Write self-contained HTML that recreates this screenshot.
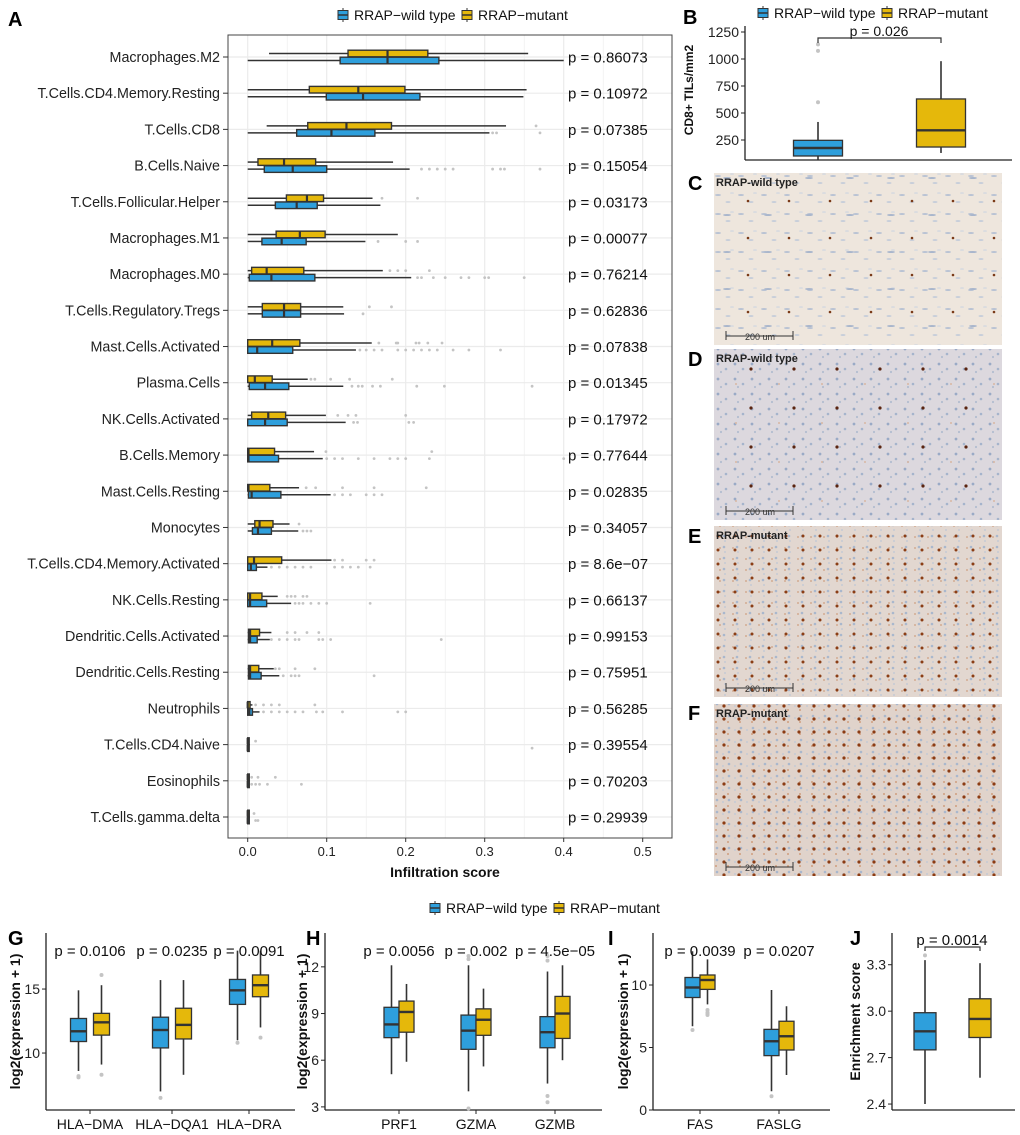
<!DOCTYPE html>
<html><head><meta charset="utf-8">
<style>
html,body{margin:0;padding:0;background:#fff;}
svg{display:block;font-family:"Liberation Sans",Arial,sans-serif;}
</style></head>
<body>
<svg id="fig" width="1020" height="1135" viewBox="0 0 1020 1135" xmlns="http://www.w3.org/2000/svg">
<defs>
  <pattern id="tissueC" width="23" height="19" patternUnits="userSpaceOnUse">
    <rect width="23" height="19" fill="#eee6dd"/>
    <ellipse cx="5" cy="5" rx="3" ry="1" fill="#b9c3d4"/>
    <ellipse cx="15" cy="12" rx="2.5" ry="0.9" fill="#c2cbd9"/>
    <ellipse cx="19" cy="3" rx="2" ry="0.8" fill="#d3d8e0"/>
  </pattern>
  <pattern id="tissueC2" width="41" height="37" patternUnits="userSpaceOnUse">
    <circle cx="10" cy="16" r="1.3" fill="#7a3a18"/>
    <ellipse cx="30" cy="30" rx="4" ry="1" fill="#a9b6cc"/>
  </pattern>
  <pattern id="tissueD" width="17" height="15" patternUnits="userSpaceOnUse">
    <rect width="17" height="15" fill="#dcd8de"/>
    <circle cx="4" cy="4" r="1.4" fill="#9aaac6"/>
    <circle cx="12" cy="9" r="1.3" fill="#a5b4cc"/>
    <circle cx="7" cy="12" r="1.1" fill="#b3bdd0"/>
  </pattern>
  <pattern id="tissueD2" width="43" height="39" patternUnits="userSpaceOnUse">
    <circle cx="20" cy="18" r="1.6" fill="#5a2410"/>
    <circle cx="5" cy="33" r="1" fill="#d8b7a3"/>
  </pattern>
  <pattern id="tissueE" width="13" height="11" patternUnits="userSpaceOnUse">
    <rect width="13" height="11" fill="#e2d7d0"/>
    <circle cx="9" cy="8" r="1.3" fill="#a9b7cd"/>
    <circle cx="10" cy="2" r="0.9" fill="#bdc6d6"/>
    <circle cx="5" cy="9" r="1" fill="#d2ab92"/>
  </pattern>
  <pattern id="tissueE2" width="17" height="14" patternUnits="userSpaceOnUse">
    <circle cx="4" cy="4" r="1.5" fill="#8b3e16"/>
  </pattern>
  <pattern id="tissueF" width="12" height="12" patternUnits="userSpaceOnUse">
    <rect width="12" height="12" fill="#e0d3cb"/>
    <circle cx="9" cy="8" r="1.3" fill="#a9b7cd"/>
    <circle cx="8" cy="2" r="1" fill="#cf9e7e"/>
    <circle cx="3" cy="10" r="0.9" fill="#bcc7d8"/>
  </pattern>
  <pattern id="tissueF2" width="15" height="13" patternUnits="userSpaceOnUse">
    <circle cx="4" cy="4" r="1.6" fill="#8c3c14"/>
  </pattern>
</defs>
<g id="root"></g>
</svg>
<script>
// ===== Panel A data (wild = blue, mutant = yellow) =====
const aCategories = ["Macrophages.M2","T.Cells.CD4.Memory.Resting","T.Cells.CD8","B.Cells.Naive","T.Cells.Follicular.Helper","Macrophages.M1","Macrophages.M0","T.Cells.Regulatory.Tregs","Mast.Cells.Activated","Plasma.Cells","NK.Cells.Activated","B.Cells.Memory","Mast.Cells.Resting","Monocytes","T.Cells.CD4.Memory.Activated","NK.Cells.Resting","Dendritic.Cells.Activated","Dendritic.Cells.Resting","Neutrophils","T.Cells.CD4.Naive","Eosinophils","T.Cells.gamma.delta"];
const aPvalues = ["p = 0.86073","p = 0.10972","p = 0.07385","p = 0.15054","p = 0.03173","p = 0.00077","p = 0.76214","p = 0.62836","p = 0.07838","p = 0.01345","p = 0.17972","p = 0.77644","p = 0.02835","p = 0.34057","p = 8.6e\u221207","p = 0.66137","p = 0.99153","p = 0.75951","p = 0.56285","p = 0.39554","p = 0.70203","p = 0.29939"];
// [whiskerLow, q1, median, q3, whiskerHigh]
const aWild = [[0,0.117,0.177,0.242,0.40],[0,0.0995,0.146,0.218,0.349],[0,0.062,0.106,0.161,0.306],[0,0.021,0.057,0.10,0.205],[0,0.035,0.062,0.088,0.168],[0,0.018,0.043,0.074,0.149],[0,0.002,0.03,0.085,0.207],[0,0.0185,0.046,0.067,0.122],[0,0,0.012,0.057,0.137],[0,0.002,0.022,0.052,0.121],[0,0,0.022,0.05,0.124],[0,0,0.001,0.039,0.095],[0,0.001,0.005,0.042,0.105],[0,0.006,0.013,0.03,0.064],[0,0,0.004,0.011,0.025],[0,0,0.003,0.024,0.055],[0,0.001,0.003,0.012,0.028],[0,0.001,0.003,0.017,0.04],[0,0,0.002,0.006,0.015],[0,0,0,0.001,0.001],[0,0,0,0.002,0.002],[0,0,0,0.002,0.002]];
const aMutant = [[0.027,0.127,0.177,0.228,0.355],[0,0.078,0.14,0.199,0.353],[0.024,0.076,0.125,0.182,0.327],[0,0.013,0.046,0.086,0.184],[0,0.049,0.075,0.096,0.158],[0,0.036,0.066,0.098,0.19],[0,0.005,0.024,0.071,0.171],[0,0.0185,0.046,0.067,0.121],[0,0,0.031,0.066,0.157],[0,0,0.009,0.031,0.076],[0,0.005,0.026,0.048,0.099],[0,0,0.001,0.034,0.084],[0,0,0.001,0.028,0.065],[0,0.009,0.015,0.032,0.053],[0,0,0.008,0.043,0.106],[0,0,0.003,0.018,0.038],[0,0.001,0.003,0.015,0.03],[0,0.001,0.003,0.014,0.033],[0,0,0,0.003,0.006],[0,0,0,0.001,0.001],[0,0,0,0.002,0.002],[0,0,0,0.002,0.002]];
const aWildOut = [[],[],[0.31,0.315,0.37],[0.22,0.23,0.24,0.25,0.26,0.31,0.32,0.325,0.37],[],[0.165,0.20,0.215],[0.215,0.22,0.235,0.25,0.27,0.28,0.30,0.305,0.35],[0.146],[0.142,0.15,0.16,0.17,0.19,0.2,0.21,0.22,0.23,0.24,0.26,0.28,0.32],[0.132,0.14,0.145,0.158,0.168,0.214,0.249,0.36],[0.134,0.139,0.204,0.21],[0.10,0.11,0.12,0.14,0.16,0.18,0.19,0.2,0.23,0.4],[0.11,0.12,0.13,0.15,0.16,0.17],[0.07,0.075,0.08],[0.03,0.04,0.05,0.06,0.07,0.08,0.11,0.12,0.13,0.14,0.155],[0.06,0.065,0.07,0.08,0.09,0.1,0.155],[0.03,0.04,0.05,0.06,0.065,0.09,0.095,0.105,0.245],[0.045,0.055,0.06,0.065,0.16],[0.02,0.03,0.04,0.05,0.06,0.07,0.087,0.095,0.12,0.19,0.2],[0.36],[0.005,0.01,0.015,0.025,0.068],[0.01,0.013]];
const aMutantOut = [[],[],[0.365],[],[0.17,0.215],[],[0.18,0.19,0.2,0.23],[0.154,0.182],[0.166,0.188,0.19,0.213,0.217,0.228,0.246],[0.08,0.085,0.105,0.129,0.183],[0.114,0.127,0.137,0.2],[0.099,0.233],[0.074,0.086,0.12,0.16,0.226],[0.065],[0.11,0.12,0.15,0.16],[0.05,0.055,0.06,0.07,0.075],[0.05,0.06,0.075,0.09],[0.035,0.04,0.06,0.085],[0.01,0.02,0.03,0.04,0.085],[0.01],[0.005,0.013,0.035],[0.008]];
const aTicks = [0,0.1,0.2,0.3,0.4,0.5];
const aTickLabels = ["0.0","0.1","0.2","0.3","0.4","0.5"];

// ===== Panel B data =====
const bGroups = ["RRAP-wild type","RRAP-mutant"];
const bStats = [[65,102,176,247,417],[130,185,340,630,980]];
const bOutliers = [[600,1075,1135],[]];
const bTicks = [250,500,750,1000,1250];

// ===== Panels G-J data =====
const gGenes = ["HLA\u2212DMA","HLA\u2212DQA1","HLA\u2212DRA"];
const gWild = [[8.6,10.9,11.7,12.7,14.9],[7.0,10.4,11.8,12.8,15.7],[11.0,13.8,14.9,15.75,18.0]];
const gMut = [[9.1,11.4,12.4,13.1,15.3],[8.3,11.1,12.2,13.5,15.7],[12.0,14.4,15.3,16.1,18.0]];
const gWildOut = [[8.1,8.2],[6.5],[10.8]];
const gMutOut = [[16.1,8.3],[],[11.2]];
const gP = ["p = 0.0106","p = 0.0235","p = 0.0091"];
const gTicks = [10,15];

const hGenes = ["PRF1","GZMA","GZMB"];
const hWild = [[5.1,7.45,8.3,9.4,12.1],[4.0,6.7,7.9,8.9,12.1],[4.5,6.8,7.8,8.8,11.7]];
const hMut = [[5.9,7.8,9.1,9.8,10.9],[5.6,7.6,8.6,9.3,10.6],[6.0,7.4,9.0,10.1,12.1]];
const hWildOut = [[],[2.9,12.5,12.7],[3.3,3.7,12.4,12.7]];
const hMutOut = [[],[],[]];
const hP = ["p = 0.0056","p = 0.002","p = 4.5e\u221205"];
const hTicks = [3,6,9,12];

const iGenes = ["FAS","FASLG"];
const iWild = [[6.7,9.0,9.8,10.6,12.7],[1.5,4.35,5.5,6.45,9.6]];
const iMut = [[8.45,9.65,10.4,10.8,12.05],[2.8,4.8,5.9,7.1,8.3]];
const iWildOut = [[6.4],[1.1]];
const iMutOut = [[7.6,7.7,7.8,8.0],[]];
const iP = ["p = 0.0039","p = 0.0207"];
const iTicks = [0,5,10];

const jWild = [2.4,2.75,2.87,2.99,3.33];
const jMut = [2.57,2.83,2.95,3.08,3.31];
const jWildOut = [3.36];
const jP = "p = 0.0014";
const jTicks = [2.4,2.7,3.0,3.3];

const BLUE="#2e9fdc", YEL="#e5b80b", STK="#333333", OUT="#c4c4c4";
const NS="http://www.w3.org/2000/svg";
const root=document.getElementById('root');
function mk(tag,attrs,parent,text){const e=document.createElementNS(NS,tag);for(const k in attrs)e.setAttribute(k,attrs[k]);if(text!==undefined)e.textContent=text;(parent||root).appendChild(e);return e;}

// ---------- Panel labels ----------
const letters=[["A",8,26],["B",683,24],["C",688,190],["D",688,366],["E",688,543],["F",688,720],["G",8,945],["H",306,945],["I",608,945],["J",850,945]];
letters.forEach(l=>{
  const t=mk('text',{x:l[1],y:l[2],'font-size':20,'font-weight':'bold',fill:'#000'},root,l[0]);
  
  
});

// ---------- Legend helper ----------
function legend(x,y,name){
  const g=mk('g',{});
  
  
  const items=[[BLUE,"RRAP\u2212wild type"],[YEL,"RRAP\u2212mutant"]];
  let cx=x;
  items.forEach((it,i)=>{
    const e=mk('g',{},g);
    
    
    mk('line',{x1:cx+5,x2:cx+5,y1:y-7,y2:y+7,stroke:STK,'stroke-width':1},e);
    mk('rect',{x:cx,y:y-4.5,width:10,height:9,fill:it[0],stroke:STK,'stroke-width':1},e);
    mk('line',{x1:cx,x2:cx+10,y1:y,y2:y,stroke:STK,'stroke-width':1.5},e);
    mk('text',{x:cx+16,y:y+5,'font-size':14,fill:'#111'},e,it[1]);
    cx+= i===0?124:0;
  });
}
legend(338,15,'legend-panel-a');
legend(758,13,'legend-panel-b');
legend(430,908,'legend-bottom');

// ---------- Panel A ----------
const A={x0:228,x1:672,y0:35,y1:838};
const ax=v=>247.7+v*790;
const rowY=i=>57+i*36.19;
const gA=mk('g',{});


for(let v=0;v<=0.5001;v+=0.05){
  const ln=mk('line',{x1:ax(v),x2:ax(v),y1:A.y0,y2:A.y1,stroke:'#ebebeb','stroke-width':Math.round(v*100)%10===0?1.2:0.6},gA);
  
  
}
aCategories.forEach((c,i)=>{
  const ln=mk('line',{x1:A.x0,x2:A.x1,y1:rowY(i),y2:rowY(i),stroke:'#ebebeb','stroke-width':1.2},gA);
  
  
});
mk('rect',{x:A.x0,y:A.y0,width:A.x1-A.x0,height:A.y1-A.y0,fill:'none',stroke:'#444','stroke-width':1},gA);
function hbox(parent,s,cy,fill,name){
  const g=mk('g',{},parent);
  
  
  mk('line',{x1:ax(s[0]),x2:ax(s[1]),y1:cy,y2:cy,stroke:STK,'stroke-width':1.5},g);
  mk('line',{x1:ax(s[3]),x2:ax(s[4]),y1:cy,y2:cy,stroke:STK,'stroke-width':1.5},g);
  mk('rect',{x:ax(s[1]),y:cy-3.3,width:Math.max(ax(s[3])-ax(s[1]),1.5),height:6.6,fill:fill,stroke:STK,'stroke-width':1.4},g);
  mk('line',{x1:ax(s[2]),x2:ax(s[2]),y1:cy-3.3,y2:cy+3.3,stroke:STK,'stroke-width':2.2},g);
}
aCategories.forEach((c,i)=>{
  const y=rowY(i);
  const lab=mk('text',{x:220,y:y+5,'font-size':14.3,'text-anchor':'end',fill:'#222'},gA,c);
  
  
  mk('line',{x1:223,x2:228,y1:y,y2:y,stroke:'#333','stroke-width':1},gA);
  aWildOut[i].forEach(v=>{const d=mk('circle',{cx:ax(v),cy:y+3.5,r:1.4,fill:OUT},gA);
    
    });
  aMutantOut[i].forEach(v=>{const d=mk('circle',{cx:ax(v),cy:y-3.5,r:1.4,fill:OUT},gA);
    
    });
  hbox(gA,aWild[i],y+3.5,BLUE,'box-wild-'+i);
  hbox(gA,aMutant[i],y-3.5,YEL,'box-mutant-'+i);
  const p=mk('text',{x:568,y:y+5.5,'font-size':15,fill:'#111'},gA,aPvalues[i]);
  
  
});
aTicks.forEach((v,i)=>{
  mk('line',{x1:ax(v),x2:ax(v),y1:A.y1,y2:A.y1+4,stroke:'#333'},gA);
  const t=mk('text',{x:ax(v),y:A.y1+18,'font-size':13,'text-anchor':'middle',fill:'#222'},gA,aTickLabels[i]);
  
  
});
const axT=mk('text',{x:445,y:877,'font-size':14,'font-weight':'bold','text-anchor':'middle',fill:'#111'},gA,'Infiltration score');



// ---------- Vertical box plot helper ----------
function vpanel(cfg){
  const g=mk('g',{});
  
  
  const sy=v=>cfg.yb-(v-cfg.vmin)*cfg.k;
  mk('line',{x1:cfg.x0,x2:cfg.x0,y1:cfg.yt,y2:cfg.yb,stroke:'#222','stroke-width':1.3},g);
  mk('line',{x1:cfg.x0,x2:cfg.x1,y1:cfg.yb,y2:cfg.yb,stroke:'#222','stroke-width':1.3},g);
  cfg.ticks.forEach(v=>{
    mk('line',{x1:cfg.x0-4,x2:cfg.x0,y1:sy(v),y2:sy(v),stroke:'#222'},g);
    const t=mk('text',{x:cfg.x0-6,y:sy(v)+5,'font-size':14,'text-anchor':'end',fill:'#222'},g,cfg.fmt?cfg.fmt(v):String(v));
    
    
  });
  const yt=mk('text',{x:0,y:0,'font-size':cfg.ytSize||14,'font-weight':'bold','text-anchor':'middle',fill:'#111',transform:`translate(${cfg.ytx},${(cfg.yt+cfg.yb)/2}) rotate(-90)`},g,cfg.ytitle);
  
  
  cfg.groups.forEach((gr,i)=>{
    const list = gr.single ? [[gr.wild,gr.wOut,gr.fill,0,gr.kind]] : [[gr.wild,gr.wOut,BLUE,-cfg.off,'wild'],[gr.mut,gr.mOut,YEL,cfg.off,'mutant']];
    list.forEach(b=>{
      const s=b[0], cx=gr.cx+b[3], w=cfg.bw;
      const bg=mk('g',{},g);
      
      
      mk('line',{x1:cx,x2:cx,y1:sy(s[0]),y2:sy(s[4]),stroke:STK,'stroke-width':1.6},bg);
      mk('rect',{x:cx-w/2,y:sy(s[3]),width:w,height:sy(s[1])-sy(s[3]),fill:b[2],stroke:STK,'stroke-width':1.3},bg);
      mk('line',{x1:cx-w/2,x2:cx+w/2,y1:sy(s[2]),y2:sy(s[2]),stroke:STK,'stroke-width':2.4},bg);
      (b[1]||[]).forEach(v=>{const d=mk('circle',{cx:cx,cy:sy(v),r:2,fill:OUT},bg);
        
        });
    });
    if(gr.label){
      mk('line',{x1:gr.cx,x2:gr.cx,y1:cfg.yb,y2:cfg.yb+4,stroke:'#222'},g);
      const t=mk('text',{x:gr.cx,y:cfg.yb+19,'font-size':14,'text-anchor':'middle',fill:'#111'},g,gr.label);
      
      
    }
    if(gr.p){
      const t=mk('text',{x:gr.cx,y:cfg.py,'font-size':15,'text-anchor':'middle',fill:'#111'},g,gr.p);
      
      
    }
  });
  return {g,sy};
}

// Panel B
(function(){
  const sy=v=>32+(1250-v)*0.108;
  const g=mk('g',{});
  
  
  mk('line',{x1:745,x2:745,y1:26,y2:160,stroke:'#222','stroke-width':1.3},g);
  mk('line',{x1:745,x2:1012,y1:160,y2:160,stroke:'#222','stroke-width':1.3},g);
  bTicks.forEach(v=>{
    mk('line',{x1:741,x2:745,y1:sy(v),y2:sy(v),stroke:'#222'},g);
    const t=mk('text',{x:739,y:sy(v)+5,'font-size':14,'text-anchor':'end',fill:'#222'},g,String(v));
    
    
  });
  const yt=mk('text',{x:0,y:0,'font-size':12,'font-weight':'bold','text-anchor':'middle',fill:'#111',transform:'translate(693,90) rotate(-90)'},g,'CD8+ TILs/mm2');
  
  
  const cxs=[818,941], cols=[BLUE,YEL];
  bStats.forEach((s,i)=>{
    const bg=mk('g',{},g);
    
    
    const cx=cxs[i], w=49;
    mk('line',{x1:cx,x2:cx,y1:sy(s[0]),y2:sy(s[4]),stroke:STK,'stroke-width':1.6},bg);
    mk('rect',{x:cx-w/2,y:sy(s[3]),width:w,height:sy(s[1])-sy(s[3]),fill:cols[i],stroke:STK,'stroke-width':1.3},bg);
    mk('line',{x1:cx-w/2,x2:cx+w/2,y1:sy(s[2]),y2:sy(s[2]),stroke:STK,'stroke-width':2.4},bg);
    bOutliers[i].forEach(v=>{const d=mk('circle',{cx:cx,cy:sy(v),r:2,fill:OUT},bg);
      
      });
  });
  mk('path',{d:'M818,43 V38 H941 V43',fill:'none',stroke:'#333','stroke-width':1.2},g);
  const p=mk('text',{x:879,y:36,'font-size':14,'text-anchor':'middle',fill:'#111'},g,'p = 0.026');
  
  
})();

// Histology images
[["C",173,345,'tissueC','RRAP-wild type'],["D",349,520,'tissueD','RRAP-wild type'],["E",526,697,'tissueE','RRAP-mutant'],["F",704,876,'tissueF','RRAP-mutant']].forEach(im=>{
  const g=mk('g',{});
  
  
  mk('rect',{x:714,y:im[1],width:288,height:im[2]-im[1],fill:'url(#'+im[3]+')'},g);
  mk('rect',{x:714,y:im[1],width:288,height:im[2]-im[1],fill:'url(#'+im[3]+'2)'},g);
  const t=mk('text',{x:716,y:im[1]+13,'font-size':11,'font-weight':'bold',fill:'#222'},g,im[4]);
  
  
  const y=im[2]-9;
  mk('path',{d:`M726,${y-5} V${y+4} M726,${y} H793 M793,${y-5} V${y+4}`,stroke:'#333','stroke-width':1,fill:'none'},g);
  const s=mk('text',{x:760,y:y+4,'font-size':9,'text-anchor':'middle',fill:'#333'},g,'200 um');
  
  
});

// Panel G
vpanel({name:'panel-g-chart',x0:46,x1:295,yt:933,yb:1110,vmin:5.55,k:12.8,ticks:gTicks,ytitle:'log2(expression + 1)',ytx:20,off:11.5,bw:16,py:956,
  groups:gGenes.map((n,i)=>({cx:[90,172,249][i],label:n,wild:gWild[i],mut:gMut[i],wOut:gWildOut[i],mOut:gMutOut[i],p:gP[i]}))});
// Panel H
vpanel({name:'panel-h-chart',x0:325,x1:602,yt:933,yb:1110,vmin:2.8,k:15.56,ticks:hTicks,ytitle:'log2(expression + 1)',ytx:307,off:7.5,bw:15,py:956,
  groups:hGenes.map((n,i)=>({cx:[399,476,555][i],label:n,wild:hWild[i],mut:hMut[i],wOut:hWildOut[i],mOut:hMutOut[i],p:hP[i]}))});
// Panel I
vpanel({name:'panel-i-chart',x0:653,x1:830,yt:933,yb:1110,vmin:0,k:12.5,ticks:iTicks,ytitle:'log2(expression + 1)',ytx:628,off:7.5,bw:15,py:956,
  groups:iGenes.map((n,i)=>({cx:[700,779][i],label:n,wild:iWild[i],mut:iMut[i],wOut:iWildOut[i],mOut:iMutOut[i],p:iP[i]}))});
// Panel J
(function(){
  const r=vpanel({name:'panel-j-chart',x0:892,x1:1015,yt:933,yb:1110,vmin:2.3615,k:154.8,ticks:jTicks,fmt:v=>v.toFixed(1),ytitle:'Enrichment score',ytx:860,off:0,bw:22,
    groups:[{cx:925,single:true,fill:BLUE,kind:'wild',wild:jWild,wOut:jWildOut},{cx:980,single:true,fill:YEL,kind:'mutant',wild:jMut,wOut:[]}]});
  mk('path',{d:'M925,951 V947 H980 V951',fill:'none',stroke:'#333','stroke-width':1.2},r.g);
  const p=mk('text',{x:952,y:945,'font-size':15,'text-anchor':'middle',fill:'#111'},r.g,jP);
  
  
})();
</script>
</body></html>
